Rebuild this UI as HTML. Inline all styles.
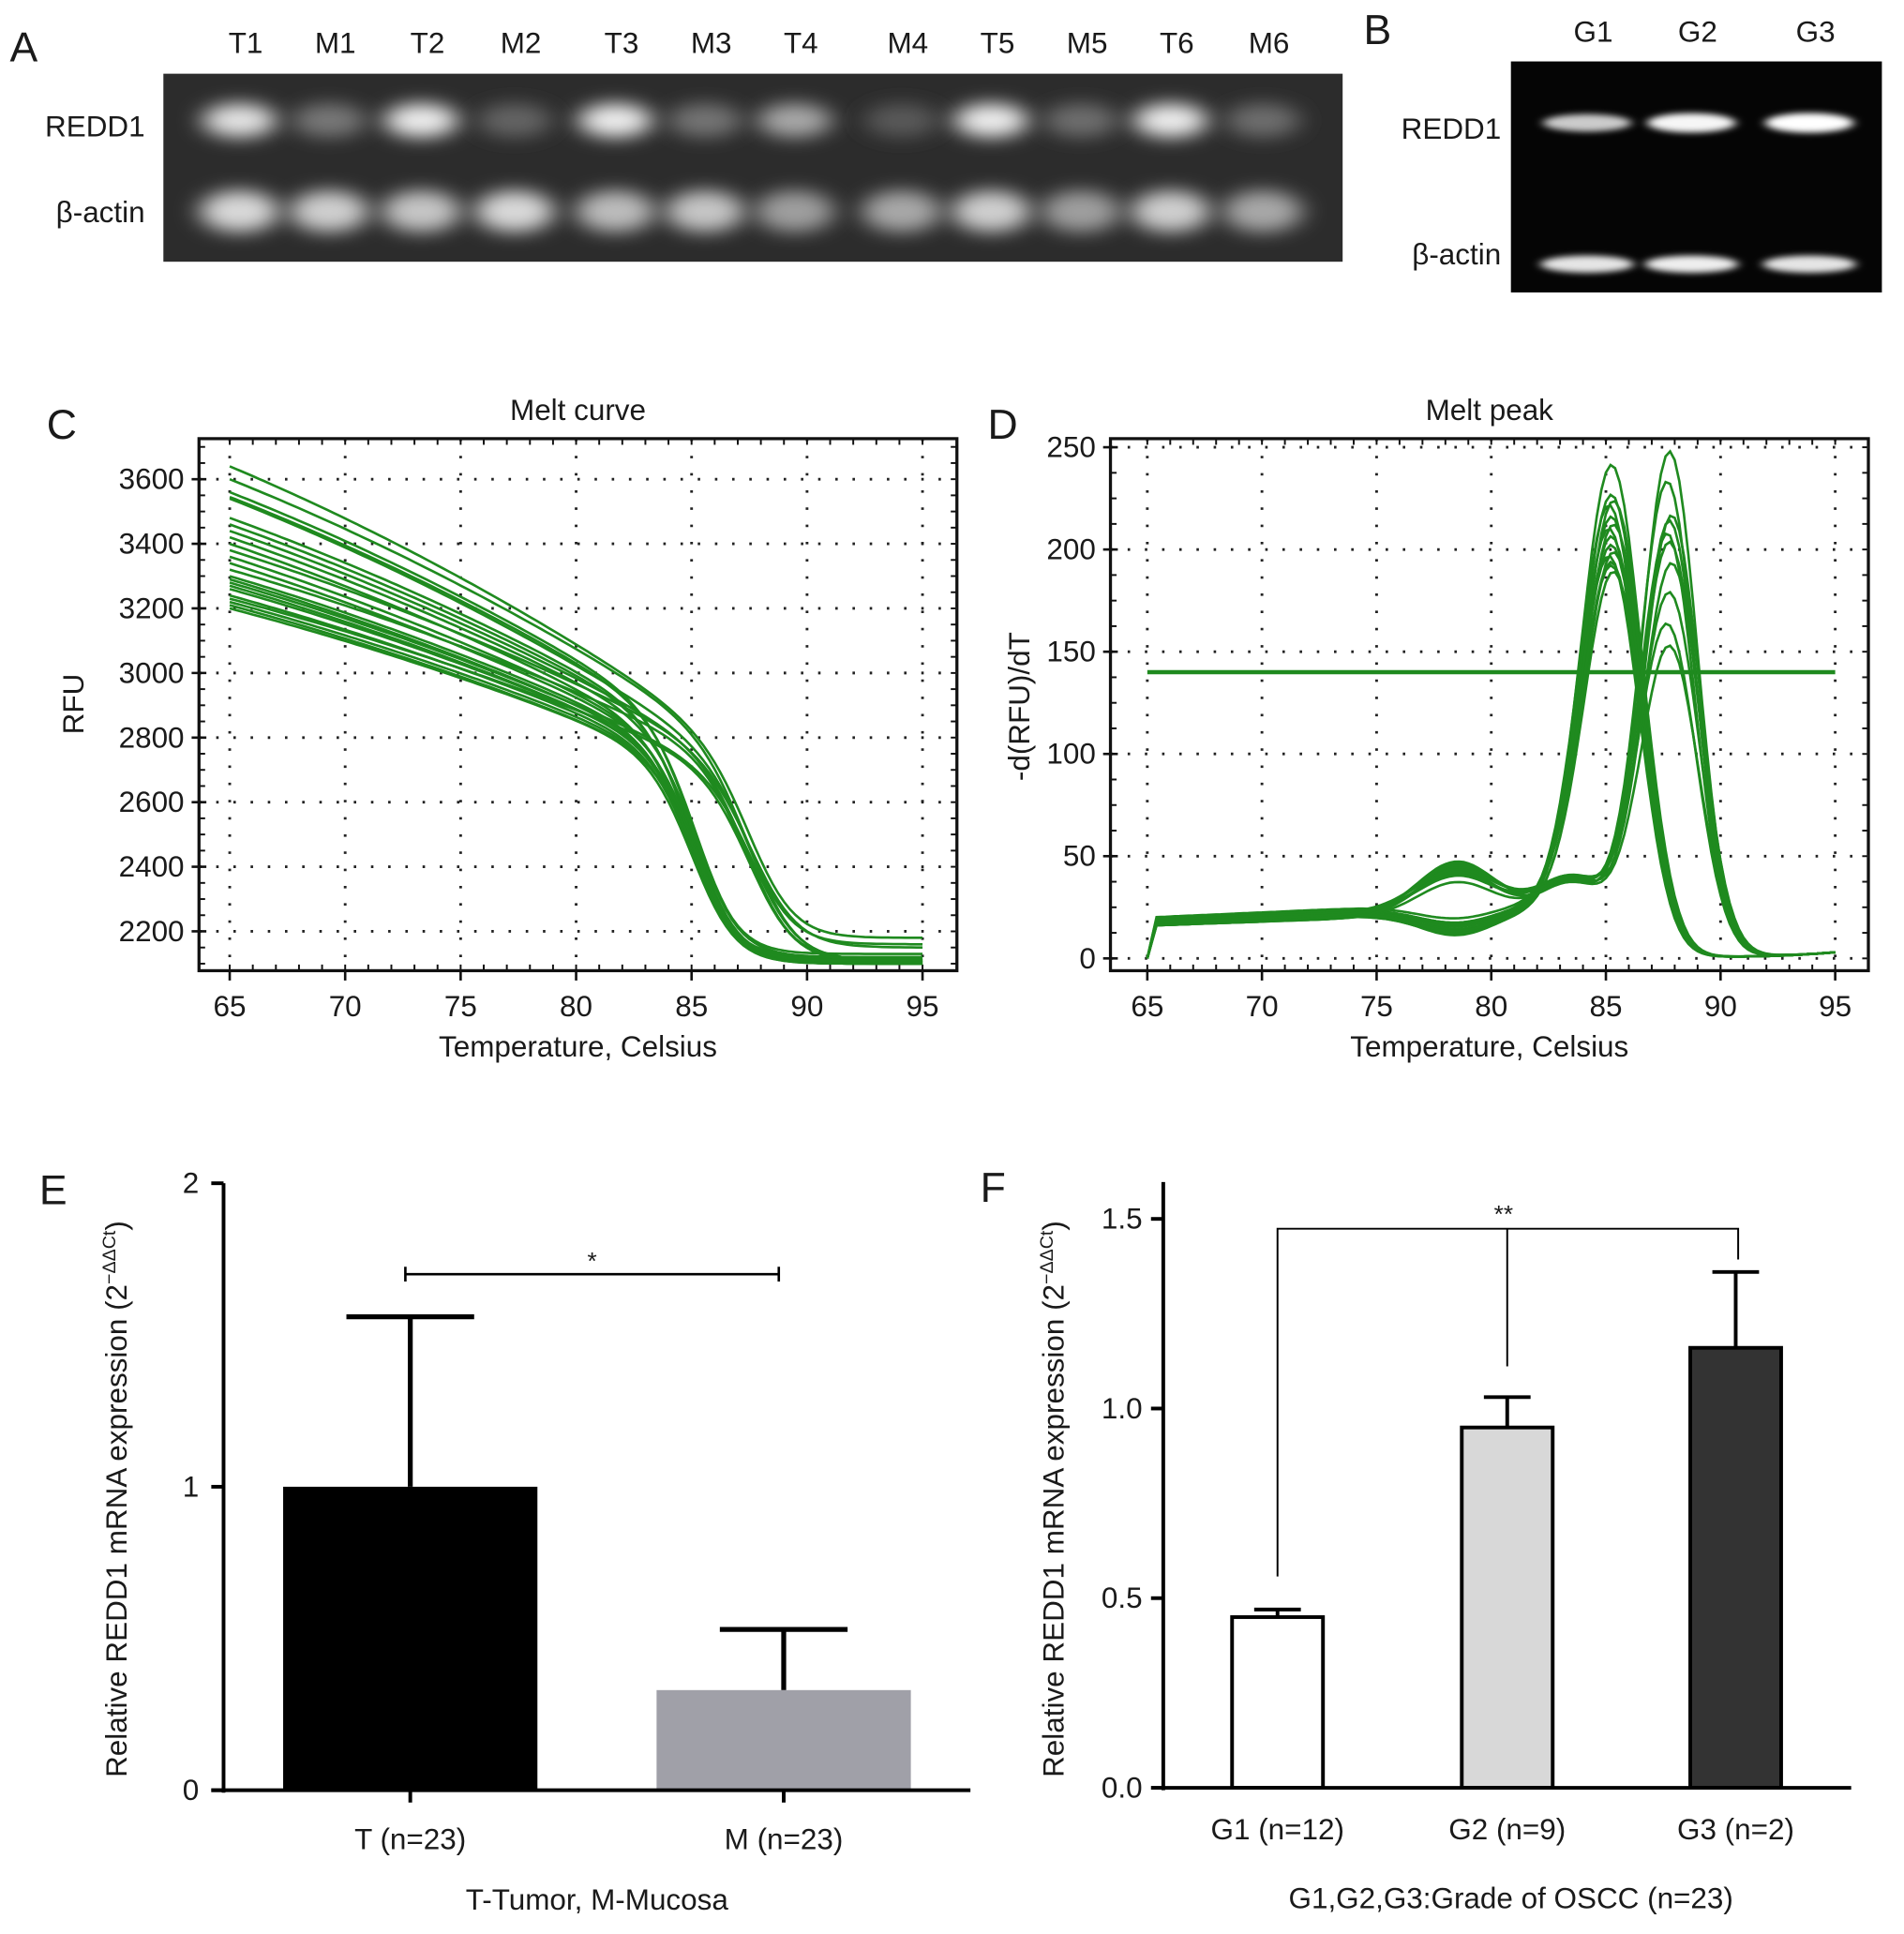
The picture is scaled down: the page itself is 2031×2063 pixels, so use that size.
<!DOCTYPE html>
<html><head><meta charset="utf-8"><style>
html,body{margin:0;padding:0;background:#fff}
svg{display:block}
text{font-family:"Liberation Sans",Arial,sans-serif;fill:#1a1a1a}
</style></head><body>
<svg id="fig" width="2031" height="2063" viewBox="0 0 1550 1574" preserveAspectRatio="none" xmlns="http://www.w3.org/2000/svg">
<defs>
<filter id="blur" x="-50%" y="-80%" width="200%" height="260%"><feGaussianBlur stdDeviation="10 7"/></filter>
<filter id="blur2" x="-20%" y="-100%" width="140%" height="300%"><feGaussianBlur stdDeviation="4 2.5"/></filter>
</defs>
<g>
<text x="8" y="50" font-size="34">A</text>
<rect x="133" y="60" width="960" height="153" fill="#2c2c2c"/>
<g id="gelA"></g>
<text x="118" y="111" font-size="24" text-anchor="end">REDD1</text>
<text x="118" y="181" font-size="24" text-anchor="end">β-actin</text>
</g>
<g>
<text x="1110" y="36" font-size="34">B</text>
<rect x="1230" y="50" width="302" height="188" fill="#050505"/>
<g id="gelB"></g>
<text x="1222" y="113" font-size="24" text-anchor="end">REDD1</text>
<text x="1222" y="215" font-size="24" text-anchor="end">β-actin</text>
</g>
<g id="panelC"></g>
<g id="panelD"></g>
<g id="panelE"></g>
<g id="panelF"></g>
</svg>
<script>
const laneLabelsA = ["T1","M1","T2","M2","T3","M3","T4","M4","T5","M5","T6","M6"];
const laneXA = [200,273,348,424,506,579,652,739,812,885,958,1033];
const reddIntensityA = [0.85,0.3,0.9,0.2,0.9,0.28,0.55,0.15,0.9,0.25,0.9,0.25];
const actinIntensityA = [0.8,0.75,0.7,0.8,0.65,0.7,0.5,0.55,0.75,0.5,0.75,0.55];
const laneLabelsB = ["G1","G2","G3"];
const laneXB = [1297,1382,1478];
const reddIntensityB = [0.7,0.95,1.0];
const actinIntensityB = [0.85,0.9,0.85];

const meltStart = [3640,3600,3560,3545,3540,3480,3460,3440,3420,3400,3380,3360,3340,3320,3300,3290,3280,3270,3260,3240,3230,3220,3210,3200];
const meltPre82 = [3000,2990,2960,2950,2940,2930,2920,2910,2900,2880,2900,2870,2860,2880,2850,2840,2840,2830,2830,2820,2830,2810,2800,2800];
const meltEnd   = [2180,2160,2130,2120,2110,2115,2110,2105,2120,2100,2150,2110,2100,2110,2105,2100,2110,2105,2100,2120,2105,2100,2110,2100];
const meltTm    = [87.8,87.6,85.3,85.4,87.9,85.2,85.3,87.7,85.4,85.2,87.8,85.3,85.4,87.6,85.2,85.3,87.9,85.4,85.3,85.2,87.7,85.3,85.4,85.2];
const meltW     = [1.0,1.0,0.95,0.95,1.0,0.95,0.95,1.0,0.95,0.95,1.05,0.95,0.95,1.0,0.95,0.95,1.0,0.95,0.95,0.95,1.0,0.95,0.95,0.95];

const peakT    = [85.3,85.3,85.4,85.2,85.3,85.4,85.2,85.3,85.3,85.4,85.2,85.3,85.3,85.4,87.8,87.7,87.9,87.8,87.7,87.8,87.9,87.8,87.7,87.8];
const peakH    = [230,215,212,210,205,200,198,195,190,188,185,182,180,178,240,225,208,205,200,195,185,170,155,145];
const peakSd   = [1.3,1.3,1.3,1.3,1.3,1.3,1.3,1.3,1.3,1.3,1.3,1.3,1.3,1.3,1.2,1.2,1.2,1.2,1.2,1.25,1.25,1.25,1.25,1.25];
const peakBase = [22,23,24,22,21,25,23,22,24,21,22,23,24,22,20,21,22,23,20,22,21,23,22,20];
const bumpH    = [-10,-8,-9,-12,-10,-7,-9,-11,-8,-10,-9,-12,-8,-10,22,25,18,20,16,22,24,19,17,21];

const catE = ["T (n=23)","M (n=23)"];
const valE = [1.0,0.33];
const errE = [1.56,0.53];
const yTicksE = [0,1,2];
const catF = ["G1 (n=12)","G2 (n=9)","G3 (n=2)"];
const valF = [0.45,0.95,1.16];
const errF = [0.47,1.03,1.36];
const yTicksF = [0.0,0.5,1.0,1.5];
const xTicksCD = [65,70,75,80,85,90,95];
const yTicksC = [2200,2400,2600,2800,3000,3200,3400,3600];
const yTicksD = [0,50,100,150,200,250];

const NS="http://www.w3.org/2000/svg";
function mk(parent,tag,attrs,text){const e=document.createElementNS(NS,tag);for(const k in attrs)e.setAttribute(k,attrs[k]);if(text!==undefined)e.textContent=text;parent.appendChild(e);return e;}
const GREEN="#1f8a1f";

const gA=document.getElementById('gelA');
laneLabelsA.forEach((l,i)=>{
  const t=mk(gA.parentNode,'text',{x:laneXA[i],y:43,'font-size':24,'text-anchor':'middle'},l);
  
  
  const v1=Math.round(60+195*reddIntensityA[i]);
  const b1=mk(gA,'ellipse',{cx:laneXA[i]-5,cy:98,rx:30,ry:14,fill:`rgb(${v1},${v1},${v1})`,filter:'url(#blur)'});
  
  
  const v2=Math.round(60+195*actinIntensityA[i]);
  const b2=mk(gA,'ellipse',{cx:laneXA[i]-5,cy:172,rx:32,ry:17,fill:`rgb(${v2},${v2},${v2})`,filter:'url(#blur)'});
  
  
});
const gB=document.getElementById('gelB');
laneLabelsB.forEach((l,i)=>{
  const t=mk(gB.parentNode,'text',{x:laneXB[i],y:34,'font-size':24,'text-anchor':'middle'},l);
  
  
  const v1=Math.round(80+175*reddIntensityB[i]);
  const b1=mk(gB,'ellipse',{cx:laneXB[i]-5,cy:100,rx:36,ry:5+3*reddIntensityB[i],fill:`rgb(${v1},${v1},${v1})`,filter:'url(#blur2)'});
  
  
  const v2=Math.round(80+175*actinIntensityB[i]);
  const b2=mk(gB,'ellipse',{cx:laneXB[i]-5,cy:215,rx:38,ry:7,fill:`rgb(${v2},${v2},${v2})`,filter:'url(#blur2)'});
  
  
});

function frame(g,box,xs,ys,yTicks,title,ylab,letter,letterX){
  mk(g,'rect',{x:box.x0,y:box.y0,width:box.x1-box.x0,height:box.y1-box.y0,fill:'none',stroke:'#111','stroke-width':2.5});
  xTicksCD.forEach(v=>{
    const x=xs(v);
    mk(g,'line',{x1:x,x2:x,y1:box.y0,y2:box.y1,stroke:'#222','stroke-width':2.2,'stroke-dasharray':'2 12'});
    mk(g,'line',{x1:x,x2:x,y1:box.y1,y2:box.y1+8,stroke:'#111','stroke-width':2});
    const t=mk(g,'text',{x:x,y:box.y1+37,'font-size':24,'text-anchor':'middle'},v);
    
    
  });
  for(let v=65;v<=95;v++){const x=xs(v);mk(g,'line',{x1:x,x2:x,y1:box.y1-5,y2:box.y1,stroke:'#111','stroke-width':1.5});mk(g,'line',{x1:x,x2:x,y1:box.y0,y2:box.y0+5,stroke:'#111','stroke-width':1.5});}
  const step=yTicks[1]-yTicks[0];
  for(let v=yTicks[0]-step;v<=yTicks[yTicks.length-1]+step;v+=step/4){const y=ys(v);if(y<box.y0||y>box.y1)continue;mk(g,'line',{x1:box.x0,x2:box.x0+5,y1:y,y2:y,stroke:'#111','stroke-width':1.5});mk(g,'line',{x1:box.x1-5,x2:box.x1,y1:y,y2:y,stroke:'#111','stroke-width':1.5});}
  yTicks.forEach(v=>{
    const y=ys(v);
    mk(g,'line',{x1:box.x0,x2:box.x1,y1:y,y2:y,stroke:'#222','stroke-width':2.2,'stroke-dasharray':'2 12'});
    mk(g,'line',{x1:box.x0-6,x2:box.x0+6,y1:y,y2:y,stroke:'#111','stroke-width':2});
    const t=mk(g,'text',{x:box.x0-12,y:y+8,'font-size':24,'text-anchor':'end'},v);
    
    
  });
  const tt=mk(g,'text',{x:(box.x0+box.x1)/2,y:box.y0-15,'font-size':24,'text-anchor':'middle'},title);
  
  
  const xl=mk(g,'text',{x:(box.x0+box.x1)/2,y:box.y1+70,'font-size':24,'text-anchor':'middle'},'Temperature, Celsius');
  
  
  const yl=mk(g,'text',{x:0,y:0,'font-size':24,'text-anchor':'middle',transform:`translate(${ylab.x},${ylab.y}) rotate(-90)`},ylab.t);
  
  
  const lt=mk(g,'text',{x:letterX,y:box.y0,'font-size':34},letter);
  
  
}

(function(){
  const g=document.getElementById('panelC');
  const box={x0:162,x1:779,y0:357,y1:790};
  const xs=v=>187+(v-65)*(751-187)/30;
  const ys=v=>758-(v-2200)*(758-390)/1400;
  frame(g,box,xs,ys,yTicksC,'Melt curve',{x:68,y:573,t:'RFU'},'C',38);
  meltStart.forEach((s,i)=>{
    let d='';
    for(let T=65;T<=95.001;T+=0.25){
      const f=(T-65)/17;
      const pre=s+(meltPre82[i]-s)*(0.8*f+0.2*f*f);
      const v=meltEnd[i]+(pre-meltEnd[i])/(1+Math.exp((T-meltTm[i])/meltW[i]));
      d+=(d?'L':'M')+xs(T).toFixed(1)+','+ys(v).toFixed(1);
    }
    const p=mk(g,'path',{d:d,fill:'none',stroke:GREEN,'stroke-width':2});
    
    
  });
})();

(function(){
  const g=document.getElementById('panelD');
  const box={x0:904,x1:1521,y0:357,y1:790};
  const xs=v=>934+(v-65)*(1494-934)/30;
  const ys=v=>780-v*(780-364)/250;
  frame(g,box,xs,ys,yTicksD,'Melt peak',{x:838,y:575,t:'-d(RFU)/dT'},'D',804);
  const th=mk(g,'line',{x1:xs(65),x2:xs(95),y1:ys(140),y2:ys(140),stroke:GREEN,'stroke-width':3.5});
  
  
  peakT.forEach((pt,i)=>{
    let d='';
    for(let T=65;T<=95.001;T+=0.2){
      const ramp=Math.min(1,(T-65)/0.4);
      const base=peakBase[i]*(0.8+0.02*(T-65))*ramp*(1/(1+Math.exp((T-(pt-1))/1.2)));
      const bump=bumpH[i]*Math.exp(-Math.pow((T-78.5)/1.7,2)/2)*(1/(1+Math.exp((T-83)/0.8)));
      const shoulder=(bumpH[i]>0?15:8)*Math.exp(-Math.pow((T-83.5)/1.3,2)/2);
      const pk=peakH[i]*Math.exp(-Math.pow((T-pt)/peakSd[i],2)/2);
      const tail=3*Math.exp(-(95-T)/3);
      const v=Math.max(0,base+bump+shoulder+pk+tail);
      d+=(d?'L':'M')+xs(T).toFixed(1)+','+ys(v).toFixed(1);
    }
    const p=mk(g,'path',{d:d,fill:'none',stroke:GREEN,'stroke-width':2});
    
    
  });
})();

(function(){
  const g=document.getElementById('panelE');
  const ys=v=>1457-v*(1457-963)/2;
  const cx=[334,638], bw=207, cols=['#000','#a0a0a8'];
  const lt=mk(g,'text',{x:32,y:980,'font-size':34},'E');
  
  
  valE.forEach((v,i)=>{
    const e=mk(g,'line',{x1:cx[i],x2:cx[i],y1:ys(v),y2:ys(errE[i]),stroke:'#000','stroke-width':4});
    
    
    const c=mk(g,'line',{x1:cx[i]-52,x2:cx[i]+52,y1:ys(errE[i]),y2:ys(errE[i]),stroke:'#000','stroke-width':4});
    
    
    const r=mk(g,'rect',{x:cx[i]-bw/2,y:ys(v),width:bw,height:ys(0)-ys(v),fill:cols[i]});
    
    
    mk(g,'line',{x1:cx[i],x2:cx[i],y1:1457,y2:1467,stroke:'#000','stroke-width':3});
    const t=mk(g,'text',{x:cx[i],y:1505,'font-size':24,'text-anchor':'middle'},catE[i]);
    
    
  });
  mk(g,'line',{x1:182,x2:182,y1:963,y2:1459,stroke:'#000','stroke-width':3});
  mk(g,'line',{x1:172,x2:790,y1:1457,y2:1457,stroke:'#000','stroke-width':3});
  yTicksE.forEach(v=>{
    mk(g,'line',{x1:172,x2:182,y1:ys(v),y2:ys(v),stroke:'#000','stroke-width':3});
    const t=mk(g,'text',{x:162,y:ys(v)+8,'font-size':24,'text-anchor':'end'},v);
    
    
  });
  mk(g,'path',{d:'M330,1031V1043M330,1037H634M634,1031V1043',stroke:'#000','stroke-width':2,fill:'none'});
  const s=mk(g,'text',{x:482,y:1033,'font-size':20,'text-anchor':'middle'},'*');
  
  
  const yl=mk(g,'text',{x:0,y:0,'font-size':24,'text-anchor':'middle',transform:'translate(103,1220) rotate(-90)'});
  
  
  yl.innerHTML='Relative REDD1 mRNA expression (2<tspan dy="-9" font-size="15">−ΔΔCt</tspan><tspan dy="9">)</tspan>';
  const xl=mk(g,'text',{x:486,y:1554,'font-size':24,'text-anchor':'middle'},'T-Tumor, M-Mucosa');
  
  
})();

(function(){
  const g=document.getElementById('panelF');
  const ys=v=>1455-v*(1455-992)/1.5;
  const cx=[1040,1227,1413], bw=74, cols=['#fff','#d8d8d8','#333'];
  const lt=mk(g,'text',{x:798,y:978,'font-size':34},'F');
  
  
  valF.forEach((v,i)=>{
    const e=mk(g,'line',{x1:cx[i],x2:cx[i],y1:ys(v),y2:ys(errF[i]),stroke:'#000','stroke-width':3});
    
    
    const c=mk(g,'line',{x1:cx[i]-19,x2:cx[i]+19,y1:ys(errF[i]),y2:ys(errF[i]),stroke:'#000','stroke-width':3});
    
    
    const r=mk(g,'rect',{x:cx[i]-bw/2,y:ys(v),width:bw,height:ys(0)-ys(v),fill:cols[i],stroke:'#000','stroke-width':3});
    
    
    const t=mk(g,'text',{x:cx[i],y:1497,'font-size':24,'text-anchor':'middle'},catF[i]);
    
    
  });
  mk(g,'line',{x1:947,x2:947,y1:962,y2:1457,stroke:'#000','stroke-width':3});
  mk(g,'line',{x1:947,x2:1507,y1:1455,y2:1455,stroke:'#000','stroke-width':3});
  yTicksF.forEach(v=>{
    mk(g,'line',{x1:937,x2:947,y1:ys(v),y2:ys(v),stroke:'#000','stroke-width':3});
    const t=mk(g,'text',{x:930,y:ys(v)+8,'font-size':24,'text-anchor':'end'},v.toFixed(1));
    
    
  });
  mk(g,'path',{d:'M1040,1283V1000H1415V1025M1227,1000V1112',stroke:'#000','stroke-width':1.5,fill:'none'});
  const s=mk(g,'text',{x:1224,y:995,'font-size':20,'text-anchor':'middle'},'**');
  
  
  const yl=mk(g,'text',{x:0,y:0,'font-size':24,'text-anchor':'middle',transform:'translate(866,1220) rotate(-90)'});
  
  
  yl.innerHTML='Relative REDD1 mRNA expression (2<tspan dy="-9" font-size="15">−ΔΔCt</tspan><tspan dy="9">)</tspan>';
  const xl=mk(g,'text',{x:1230,y:1553,'font-size':24,'text-anchor':'middle'},'G1,G2,G3:Grade of OSCC (n=23)');
  
  
})();
</script>
</body></html>
